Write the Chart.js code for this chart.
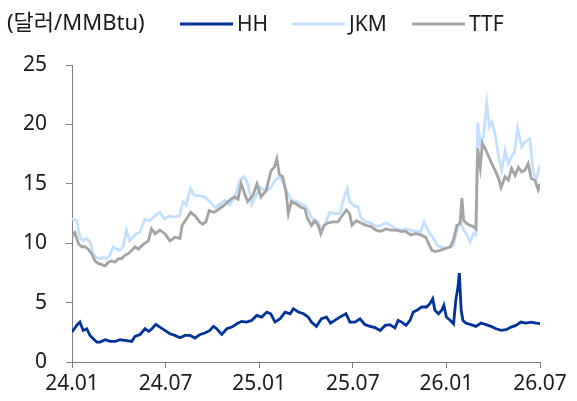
<!DOCTYPE html>
<html>
<head>
<meta charset="utf-8">
<script src="https://cdn.jsdelivr.net/npm/chart.js@4"></script>
<style>
  html, body { margin: 0; padding: 0; background: #fff; }
  #wrap { width: 577px; height: 401px; }
</style>
</head>
<body>
<div id="wrap"><canvas id="chart"></canvas></div>
<script>
// x positions are in "weeks" from 24.01 (0) to 26.07 (130)
const tickLabels = ['24.01', '24.07', '25.01', '25.07', '26.01', '26.07'];
const unitLabel = '(달러/MMBtu)';
const seriesNames = ['HH', 'JKM', 'TTF'];

const hhWeeks = [0, 1.3, 2.2, 3.1, 4.1, 5, 5.9, 6.9, 7.8, 9.2, 10.6, 12, 13.3, 14.7, 16.6, 17.5, 18.9, 20.3, 21.3, 22.2,
  23.3, 24.4, 25.8, 27.2, 28.6, 30, 31.4, 32.8, 34.2, 35.6, 36.9, 38.3, 39.3, 40.2, 41.6, 43, 44.4, 45.8, 47.1, 48.5,
  49.9, 51.3, 52.7, 54.1, 55.2, 56.4, 57.8, 59.2, 60.6, 61.5, 62.9, 64.3, 65.6, 66.5, 67.9, 69.3, 70.7, 71.8, 73, 74.4,
  76.1, 77.2, 78.6, 80, 81.4, 82.8, 84.2, 85.6, 87, 88.3, 89.7, 90.6, 91.6, 92.8, 93.9, 94.8, 95.8, 97.1, 98.5, 99.4,
  100.2, 100.8, 101.8, 102.7, 103.3, 104, 105.1, 106, 106.6, 107.2, 107.6, 108.1, 108.6, 109.4, 110.8, 112.2, 113.6, 115, 116.4, 117.8,
  119.2, 120.6, 122, 123.3, 124.7, 126.1, 127.5, 128.9, 130];
const hhValues = [2.52, 3.08, 3.36, 2.66, 2.8, 2.24, 1.96, 1.68, 1.68, 1.87, 1.73, 1.73, 1.87, 1.82, 1.73, 2.16, 2.32, 2.8, 2.58, 2.8,
  3.17, 2.94, 2.66, 2.38, 2.24, 2.04, 2.24, 2.24, 2.02, 2.32, 2.44, 2.66, 3.0, 2.8, 2.32, 2.8, 2.94, 3.22, 3.42, 3.36,
  3.5, 3.92, 3.78, 4.2, 4.06, 3.36, 3.64, 4.2, 4.06, 4.49, 4.2, 4.06, 3.78, 3.36, 3.0, 3.64, 3.78, 3.28, 3.5, 3.78,
  4.06, 3.36, 3.36, 3.64, 3.14, 3.0, 2.89, 2.66, 3.08, 3.14, 2.86, 3.5, 3.36, 3.08, 3.5, 4.2, 4.35, 4.63, 4.63, 4.91,
  5.33, 4.35, 4.06, 4.35, 4.77, 3.78, 3.5, 3.22, 5.19, 6.31, 7.49, 4.35, 3.5, 3.28, 3.14, 3.0, 3.28, 3.14, 3.0, 2.8,
  2.66, 2.72, 2.94, 3.08, 3.36, 3.28, 3.36, 3.28, 3.22];

const jkmWeeks = [0, 1.3, 2.2, 3.1, 4, 5, 5.9, 6.8, 7.8, 8.7, 9.6, 10.5, 11.4, 12.4, 13.3, 14.2, 15.1, 16, 17, 17.9,
  18.8, 20.2, 21.6, 23, 24.4, 25.7, 27.1, 28.5, 29.9, 30.8, 31.7, 32.9, 34, 35.5, 36.9, 38.3, 39.7, 41.1, 42.5, 43.8,
  45.2, 46.6, 47.8, 49, 49.9, 50.9, 52.3, 53.6, 55, 56.4, 57.8, 58.7, 59.6, 61, 62.4, 63.8, 64.7, 65.6, 66.5, 67.5,
  68.4, 69.3, 70.2, 71.6, 73, 74.4, 75.6, 76.5, 77.1, 78.5, 79.4, 80.3, 81.7, 83.1, 84.4, 85.8, 87.2, 88.6, 90, 91.4,
  92.7, 94.1, 95.5, 96.9, 97.8, 98.8, 99.7, 100.6, 101.5, 102.3, 103.7, 105.1, 106, 106.9, 107.8, 108.8, 109.7, 110.6, 111.5, 112.2,
  112.7, 113.4, 114.3, 115.2, 115.9, 116.6, 117.5, 118.5, 119.4, 120.3, 121.2, 122.1, 122.9, 123.8, 124.9, 125.8, 127.2, 128.1, 129, 130];
const jkmValues = [12.05, 11.9, 10.5, 10.2, 10.4, 10.1, 9.1, 8.8, 8.7, 8.8, 8.7, 9.0, 9.7, 9.5, 9.4, 9.7, 11.1, 10.2, 10.5, 10.8,
  10.9, 12.0, 11.9, 12.3, 12.6, 12.05, 12.3, 12.2, 12.3, 13.5, 13.2, 14.6, 14.0, 14.0, 13.9, 13.5, 13.0, 13.3, 13.6, 13.2,
  13.9, 15.3, 15.6, 14.9, 13.3, 13.9, 14.7, 14.4, 14.6, 15.3, 15.6, 15.0, 14.4, 13.6, 13.5, 13.2, 13.2, 12.8, 12.2, 11.7,
  11.8, 11.0, 11.5, 12.6, 12.5, 12.5, 13.9, 14.6, 13.5, 13.1, 13.1, 12.1, 11.8, 11.7, 11.4, 11.5, 11.7, 11.5, 11.2, 11.1,
  11.2, 11.1, 11.0, 11.0, 11.8, 11.1, 10.7, 10.3, 9.8, 9.7, 9.55, 9.7, 9.8, 11.1, 11.8, 11.1, 10.7, 10.1, 10.8, 10.7,
  20.1, 18.4, 19.0, 21.8, 19.8, 20.2, 19.2, 17.3, 16.15, 17.8, 16.7, 17.3, 17.7, 19.7, 18.1, 18.5, 18.8, 16.0, 15.45, 16.6];

const ttfWeeks = [0.1, 0.8, 1.8, 2.7, 3.6, 4.5, 5.5, 6.4, 7.3, 8.2, 9.2, 10.1, 11, 11.9, 12.9, 13.8, 14.7, 15.6, 16.6, 17.5,
  18.4, 19.8, 21.2, 22.1, 23.1, 24.4, 25.8, 27.2, 28.6, 30, 30.6, 31.8, 33, 34.2, 35.4, 36.3, 37.2, 38.1, 39.5, 40.9,
  42.3, 43.7, 45.1, 46.1, 47, 47.9, 48.8, 50.2, 51.4, 52.5, 53.9, 55.3, 56.2, 56.9, 57.6, 58.5, 59.4, 60.1, 60.9, 62.3,
  63.7, 64.7, 65.4, 66.5, 67.5, 68.4, 69.1, 70, 71.1, 72.5, 73.9, 74.8, 76.2, 77.1, 77.8, 79, 80.3, 81.7, 83.1, 84.4,
  85.8, 87.2, 88.6, 90, 91.4, 92.7, 94.1, 95.5, 96.9, 98.3, 99, 100, 100.9, 102.3, 103.7, 105.1, 106, 106.9, 107.8, 108.3,
  108.8, 109.7, 110.6, 111.5, 112.2, 112.7, 113.4, 114, 114.7, 115.6, 116.6, 117.5, 118.5, 119.2, 120.3, 121.2, 122.1, 123.1, 124, 124.9,
  125.8, 126.7, 127.6, 128.6, 129.5, 130];
const ttfValues = [10.6, 10.9, 9.95, 9.7, 9.7, 9.5, 9.1, 8.5, 8.3, 8.2, 8.1, 8.4, 8.5, 8.4, 8.7, 8.7, 9.0, 9.1, 9.4, 9.7,
  9.5, 9.9, 10.2, 11.2, 10.8, 11.1, 10.8, 10.2, 10.5, 10.4, 11.5, 12.05, 12.6, 12.3, 11.8, 11.6, 11.8, 12.75, 12.6, 12.9,
  13.2, 13.6, 13.9, 13.7, 15.0, 14.2, 13.5, 14.0, 15.0, 13.9, 14.4, 16.1, 16.4, 17.1, 15.8, 15.6, 14.4, 12.5, 13.5, 13.3,
  13.0, 12.9, 12.1, 11.5, 11.9, 11.5, 10.8, 11.5, 11.7, 11.8, 11.8, 12.2, 12.8, 12.5, 11.5, 11.9, 11.7, 11.5, 11.4, 11.1,
  11.0, 11.2, 11.1, 11.1, 11.0, 11.0, 10.7, 10.8, 10.7, 10.5, 10.0, 9.4, 9.3, 9.4, 9.55, 9.7, 10.3, 11.5, 11.65, 13.8,
  11.9, 11.65, 11.5, 11.4, 11.2, 18.0, 16.4, 18.4, 18.0, 17.4, 16.7, 16.15, 15.45, 14.7, 15.6, 15.3, 16.3, 15.7, 16.4, 16.0,
  16.15, 16.7, 15.45, 15.3, 14.5, 15.0];

const colors = ['#003399', '#c4e0ff', '#a3a3a3'];
const legendX = [180, 292, 412];
const font = '"Noto Sans", "Noto Sans CJK KR", sans-serif';

function toPoints(xs, ys) {
  return xs.map((x, i) => ({ x: x, y: ys[i] }));
}

const headerPlugin = {
  id: 'header',
  afterDraw(chart) {
    const ctx = chart.ctx;
    ctx.save();
    ctx.textBaseline = 'middle';
    ctx.fillStyle = '#1a1a1a';
    ctx.font = '22px ' + font;
    ctx.fillText(unitLabel, 7, 24);
    ctx.font = '21px ' + font;
    chart.data.datasets.forEach((ds, i) => {
      const x = legendX[i];
      ctx.strokeStyle = ds.borderColor;
      ctx.lineWidth = 3;
      ctx.beginPath();
      ctx.moveTo(x, 24);
      ctx.lineTo(x + 53, 24);
      ctx.stroke();
      ctx.fillText(ds.label, x + 57, 25);
    });
    ctx.restore();
  }
};

new Chart(document.getElementById('chart').getContext('2d'), {
  type: 'line',
  data: {
    datasets: [
      { label: seriesNames[0], data: toPoints(hhWeeks, hhValues), borderColor: colors[0], borderWidth: 2.8, order: 0 },
      { label: seriesNames[1], data: toPoints(jkmWeeks, jkmValues), borderColor: colors[1], borderWidth: 2.8, order: 2 },
      { label: seriesNames[2], data: toPoints(ttfWeeks, ttfValues), borderColor: colors[2], borderWidth: 2.8, order: 1 }
    ]
  },
  options: {
    responsive: true,
    maintainAspectRatio: false,
    animation: false,
    layout: { padding: { top: 65, right: 37, left: 0, bottom: 0 } },
    elements: { point: { radius: 0 }, line: { tension: 0 } },
    plugins: { legend: { display: false }, tooltip: { enabled: false } },
    scales: {
      x: {
        type: 'linear',
        min: 0,
        max: 130,
        afterFit(s) { s.height = 39; },
        ticks: {
          stepSize: 26,
          padding: 3,
          maxRotation: 0,
          color: '#1a1a1a',
          font: { family: font, size: 21 },
          callback: (v) => tickLabels[Math.round(v / 26)]
        },
        grid: { drawOnChartArea: false, drawTicks: true, tickLength: 6, color: '#7f7f7f' },
        border: { color: '#7f7f7f' }
      },
      y: {
        min: 0,
        max: 25,
        afterFit(s) { s.width = 72; },
        ticks: {
          stepSize: 5,
          padding: 19,
          color: '#1a1a1a',
          font: { family: font, size: 21 }
        },
        grid: { drawOnChartArea: false, drawTicks: true, tickLength: 6, color: '#7f7f7f' },
        border: { color: '#7f7f7f' }
      }
    }
  },
  plugins: [headerPlugin]
});
</script>
</body>
</html>
